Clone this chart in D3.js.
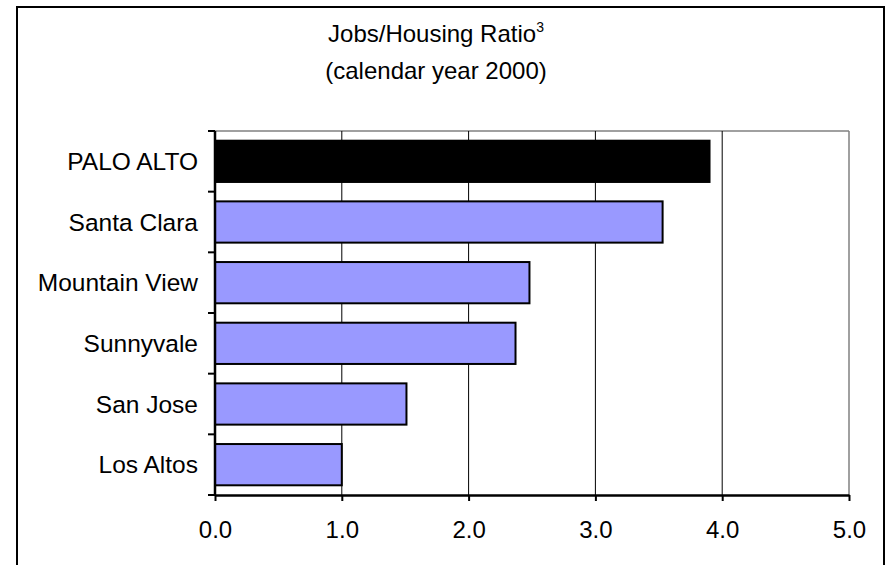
<!DOCTYPE html>
<html>
<head>
<meta charset="utf-8">
<script src="https://cdn.jsdelivr.net/npm/d3@7"></script>
<style>
  html, body { margin: 0; padding: 0; background: #fff; }
  svg { display: block; font-family: "Liberation Sans", Arial, sans-serif; }
</style>
</head>
<body>
<svg id="chart" width="892" height="565"></svg>
<script>
// Jobs/Housing ratio by city, calendar year 2000
const cities = ["PALO ALTO", "Santa Clara", "Mountain View", "Sunnyvale", "San Jose", "Los Altos"];
const ratios = [3.90, 3.53, 2.48, 2.37, 1.51, 1.00];
const highlight = ["PALO ALTO"];
const xTicks = [0, 1, 2, 3, 4, 5];
const xTickLabels = ["0.0", "1.0", "2.0", "3.0", "4.0", "5.0"];

const svg = d3.select("#chart");
const W = 892, H = 565;

// outer frame
svg.append("rect")
  .attr("x", 17).attr("y", 7)
  .attr("width", 867).attr("height", H + 10)
  .attr("fill", "#fff").attr("stroke", "#000").attr("stroke-width", 2);

const plot = { left: 215, right: 849, top: 131, bottom: 495 };

const x = d3.scaleLinear().domain([0, 5]).range([plot.left, plot.right]);
const y = d3.scaleBand().domain(cities).range([plot.top, plot.bottom])
  .paddingInner(0.32).paddingOuter(0.16);

// title
const title = svg.append("text")
  .attr("x", 436).attr("y", 42)
  .attr("text-anchor", "middle")
  .attr("font-size", 24).attr("fill", "#000");
title.append("tspan").text("Jobs/Housing Ratio");
title.append("tspan").attr("font-size", 14).attr("dy", -10).text("3");
svg.append("text")
  .attr("x", 436).attr("y", 79)
  .attr("text-anchor", "middle")
  .attr("font-size", 24).attr("fill", "#000")
  .text("(calendar year 2000)");

// plot area top and right edges
svg.append("line")
  .attr("x1", plot.left).attr("x2", plot.right)
  .attr("y1", plot.top).attr("y2", plot.top)
  .attr("stroke", "#808080").attr("stroke-width", 1.5);
svg.append("line")
  .attr("x1", plot.right).attr("x2", plot.right)
  .attr("y1", plot.top).attr("y2", plot.bottom)
  .attr("stroke", "#808080").attr("stroke-width", 1.5);

// vertical gridlines
svg.append("g").selectAll("line")
  .data(xTicks.filter(t => t > 0 && t < 5))
  .join("line")
  .attr("x1", d => x(d)).attr("x2", d => x(d))
  .attr("y1", plot.top).attr("y2", plot.bottom)
  .attr("stroke", "#000").attr("stroke-width", 1);

// bars
svg.append("g").selectAll("rect")
  .data(cities.map((c, i) => ({ city: c, value: ratios[i] })))
  .join("rect")
  .attr("x", x(0))
  .attr("y", d => y(d.city))
  .attr("width", d => x(d.value) - x(0))
  .attr("height", y.bandwidth())
  .attr("fill", d => highlight.includes(d.city) ? "#000" : "#9999ff")
  .attr("stroke", "#000").attr("stroke-width", 2);

// x axis
const xAxis = d3.axisBottom(x)
  .tickValues(xTicks)
  .tickFormat((d, i) => xTickLabels[i])
  .tickSizeInner(6).tickSizeOuter(0).tickPadding(20);
const gx = svg.append("g")
  .attr("transform", `translate(0,${plot.bottom})`)
  .call(xAxis);
gx.select(".domain").attr("stroke", "#000").attr("stroke-width", 2.5);
gx.selectAll(".tick line").attr("stroke", "#000").attr("stroke-width", 2);
gx.selectAll(".tick text")
  .attr("font-size", 24).attr("font-family", "Liberation Sans, Arial, sans-serif")
  .attr("fill", "#000");

// y axis: ticks on category boundaries
const boundaries = d3.range(cities.length + 1).map(i => plot.top + i * y.step());
svg.append("g").selectAll("line")
  .data(boundaries)
  .join("line")
  .attr("x1", plot.left - 7).attr("x2", plot.left)
  .attr("y1", d => d).attr("y2", d => d)
  .attr("stroke", "#000").attr("stroke-width", 2);
svg.append("line")
  .attr("x1", plot.left).attr("x2", plot.left)
  .attr("y1", plot.top).attr("y2", plot.bottom + 1)
  .attr("stroke", "#000").attr("stroke-width", 2.5);
svg.append("g").selectAll("text")
  .data(cities)
  .join("text")
  .attr("x", 198)
  .attr("y", d => y(d) + y.bandwidth() / 2)
  .attr("dy", "0.35em")
  .attr("text-anchor", "end")
  .attr("font-size", 24.5).attr("fill", "#000")
  .text(d => d);
</script>
</body>
</html>
